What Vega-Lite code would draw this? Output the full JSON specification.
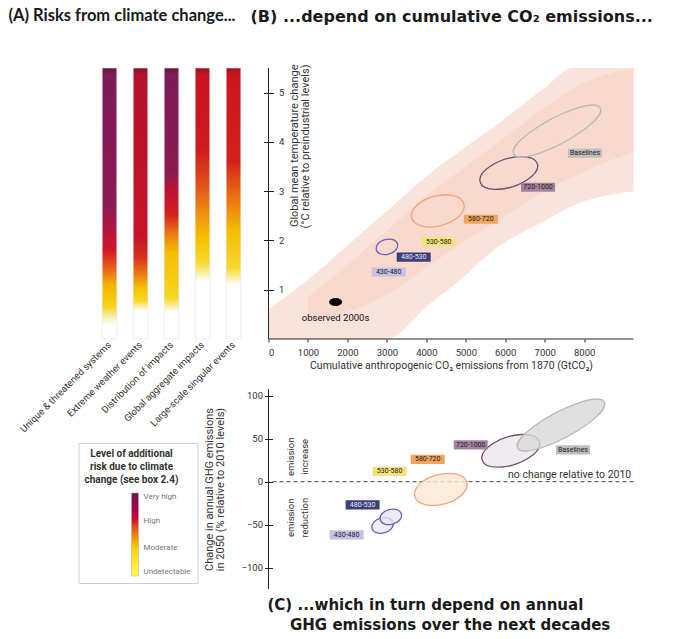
{
  "$schema": "https://vega.github.io/schema/vega-lite/v6.json",
  "background": "white",
  "padding": {"left": 8, "top": 8, "right": 4, "bottom": 4},
  "columns": 2,
  "align": "each",
  "bounds": "flush",
  "spacing": {"row": 50, "column": 19.5},
  "config": {
    "view": {"stroke": null},
    "font": "Roboto",
    "axis": {"labelFont": "Roboto", "titleFont": "Roboto", "labelFontSize": 9.5, "titleFontSize": 10.5, "titleFontWeight": "normal", "labelColor": "#333", "titleColor": "#333", "tickColor": "#222", "domainColor": "#222", "grid": false},
    "title": {"font": "Lato", "fontSize": 16, "fontWeight": "bold", "color": "#1a1a1a", "anchor": "start", "frame": "group", "baseline": "alphabetic"},
    "text": {"font": "Roboto"}
  },
  "concat": [
    {
      "width": 155,
      "height": 271,
      "title": {"text": "(A) Risks from climate change...", "fontSize": 16.5, "dx": -85.5, "offset": 43},
      "data": {"values": [
        {"system": "Unique & threatened systems", "low": 0, "high": 5.5},
        {"system": "Extreme weather events", "low": 0, "high": 5.5},
        {"system": "Distribution of impacts", "low": 0, "high": 5.5},
        {"system": "Global aggregate impacts", "low": 0, "high": 5.5},
        {"system": "Large-scale singular events", "low": 0, "high": 5.5}
      ]},
      "encoding": {
        "x": {"field": "system", "type": "nominal", "scale": {"domain": ["Unique & threatened systems", "Extreme weather events", "Distribution of impacts", "Global aggregate impacts", "Large-scale singular events"], "paddingInner": 0.53, "paddingOuter": 0.265}, "axis": {"title": null, "domain": false, "ticks": false, "labelAngle": -45, "labelAlign": "right", "labelBaseline": "middle", "labelPadding": 4, "labelLimit": 200}},
        "y": {"field": "high", "type": "quantitative", "scale": {"domain": [0, 5.5], "nice": false}, "axis": null},
        "y2": {"field": "low"}
      },
      "layer": [
        {"transform": [{"filter": "datum.system === 'Unique & threatened systems'"}], "mark": {"type": "bar", "stroke": "#e2e2e2", "strokeWidth": 0.6, "fill": {"gradient": "linear", "x1": 0, "y1": 0, "x2": 0, "y2": 1, "stops": [{"offset": 0, "color": "#5e1a3e"}, {"offset": 0.025, "color": "#7d1c57"}, {"offset": 0.5, "color": "#8a1b57"}, {"offset": 0.6, "color": "#b3163f"}, {"offset": 0.67, "color": "#cf1526"}, {"offset": 0.74, "color": "#e8601a"}, {"offset": 0.8, "color": "#f4b400"}, {"offset": 0.88, "color": "#f7d21a"}, {"offset": 0.925, "color": "#fcf1c8"}, {"offset": 0.95, "color": "#ffffff"}, {"offset": 1, "color": "#ffffff"}]}}},
        {"transform": [{"filter": "datum.system === 'Extreme weather events'"}], "mark": {"type": "bar", "stroke": "#e2e2e2", "strokeWidth": 0.6, "fill": {"gradient": "linear", "x1": 0, "y1": 0, "x2": 0, "y2": 1, "stops": [{"offset": 0, "color": "#7d1630"}, {"offset": 0.025, "color": "#b3122c"}, {"offset": 0.62, "color": "#c9122a"}, {"offset": 0.7, "color": "#d9301c"}, {"offset": 0.76, "color": "#ec7a12"}, {"offset": 0.81, "color": "#f4c000"}, {"offset": 0.86, "color": "#f7d828"}, {"offset": 0.895, "color": "#ffffff"}, {"offset": 1, "color": "#ffffff"}]}}},
        {"transform": [{"filter": "datum.system === 'Distribution of impacts'"}], "mark": {"type": "bar", "stroke": "#e2e2e2", "strokeWidth": 0.6, "fill": {"gradient": "linear", "x1": 0, "y1": 0, "x2": 0, "y2": 1, "stops": [{"offset": 0, "color": "#5e1a3e"}, {"offset": 0.025, "color": "#7d1c57"}, {"offset": 0.38, "color": "#8a1b52"}, {"offset": 0.46, "color": "#bf1430"}, {"offset": 0.54, "color": "#d41d1e"}, {"offset": 0.61, "color": "#ec7812"}, {"offset": 0.68, "color": "#f4bc00"}, {"offset": 0.85, "color": "#f7d820"}, {"offset": 0.9, "color": "#ffffff"}, {"offset": 1, "color": "#ffffff"}]}}},
        {"transform": [{"filter": "datum.system === 'Global aggregate impacts'"}], "mark": {"type": "bar", "stroke": "#e2e2e2", "strokeWidth": 0.6, "fill": {"gradient": "linear", "x1": 0, "y1": 0, "x2": 0, "y2": 1, "stops": [{"offset": 0, "color": "#951422"}, {"offset": 0.025, "color": "#c81420"}, {"offset": 0.3, "color": "#d01a1e"}, {"offset": 0.43, "color": "#e2501a"}, {"offset": 0.53, "color": "#ee8c10"}, {"offset": 0.63, "color": "#f4c200"}, {"offset": 0.72, "color": "#f7da34"}, {"offset": 0.785, "color": "#ffffff"}, {"offset": 1, "color": "#ffffff"}]}}},
        {"transform": [{"filter": "datum.system === 'Large-scale singular events'"}], "mark": {"type": "bar", "stroke": "#e2e2e2", "strokeWidth": 0.6, "fill": {"gradient": "linear", "x1": 0, "y1": 0, "x2": 0, "y2": 1, "stops": [{"offset": 0, "color": "#a01420"}, {"offset": 0.025, "color": "#cc1420"}, {"offset": 0.34, "color": "#d42018"}, {"offset": 0.49, "color": "#ec7812"}, {"offset": 0.6, "color": "#f4bc00"}, {"offset": 0.74, "color": "#f7d834"}, {"offset": 0.8, "color": "#ffffff"}, {"offset": 1, "color": "#ffffff"}]}}}
      ]
    },
    {
      "width": 365,
      "height": 271,
      "title": {"text": "(B) ...depend on cumulative CO₂ emissions...", "font": "DejaVu Sans", "fontSize": 16, "dx": -18, "offset": 39},
      "layer": [
        {
          "data": {"values": [
            {"cum": 0, "lo": 0, "hi": 0.6},
            {"cum": 1000, "lo": 0, "hi": 1.2},
            {"cum": 2000, "lo": 0, "hi": 1.9},
            {"cum": 3000, "lo": 0, "hi": 2.6},
            {"cum": 4000, "lo": 0.65, "hi": 3.3},
            {"cum": 5000, "lo": 1.3, "hi": 3.9},
            {"cum": 5700, "lo": 1.8, "hi": 4.3},
            {"cum": 7000, "lo": 2.4, "hi": 5.1},
            {"cum": 7700, "lo": 2.7, "hi": 5.5},
            {"cum": 9250, "lo": 3.0, "hi": 5.5}
          ]},
          "mark": {"type": "area", "fill": "#f3b9a6", "opacity": 0.4, "interpolate": "monotone"},
          "encoding": {
            "x": {"field": "cum", "type": "quantitative", "scale": {"domain": [0, 9250], "nice": false, "zero": false}, "axis": {"title": "Cumulative anthropogenic CO₂ emissions from 1870 (GtCO₂)", "values": [0, 1000, 2000, 3000, 4000, 5000, 6000, 7000, 8000], "format": "d", "domain": false, "tickSize": 3, "labelPadding": 5, "titlePadding": 4}},
            "y": {"field": "hi", "type": "quantitative", "scale": {"domain": [0, 5.5], "nice": false, "zero": false}, "axis": {"title": ["Global mean temperature change", "(°C relative to preindustrial levels)"], "values": [1, 2, 3, 4, 5], "labelOverlap": false, "domain": false, "offset": -5, "tickSize": 10, "labelPadding": -15, "labelAlign": "left", "labelBaseline": "middle", "titleX": 15, "titleY": -4, "titleAlign": "right", "titleBaseline": "top", "titleAngle": 270, "titleFontSize": 11, "titleLineHeight": 11, "zindex": 1}},
            "y2": {"field": "lo"}
          }
        },
        {
          "data": {"values": [
            {"cum": 1000, "lo": 0.35, "hi": 0.85},
            {"cum": 2000, "lo": 0.55, "hi": 1.5},
            {"cum": 3000, "lo": 0.9, "hi": 2.2},
            {"cum": 4000, "lo": 1.45, "hi": 2.9},
            {"cum": 5000, "lo": 2.0, "hi": 3.5},
            {"cum": 6000, "lo": 2.5, "hi": 4.1},
            {"cum": 7000, "lo": 3.0, "hi": 4.7},
            {"cum": 8000, "lo": 3.4, "hi": 5.2},
            {"cum": 9250, "lo": 3.8, "hi": 5.5}
          ]},
          "mark": {"type": "area", "fill": "#f2b49a", "opacity": 0.2, "interpolate": "monotone"},
          "encoding": {
            "x": {"field": "cum", "type": "quantitative"},
            "y": {"field": "hi", "type": "quantitative"},
            "y2": {"field": "lo"}
          }
        },
        {"data": {"values": [{}]}, "mark": {"type": "rule", "color": "#222", "strokeWidth": 1}, "encoding": {"x": {"datum": 0}}},
        {"data": {"values": [{}]}, "mark": {"type": "rule", "color": "#222", "strokeWidth": 1}, "encoding": {"y": {"datum": 0}}},
        {
          "data": {"values": [
            {"scenario": "480-530", "cum": 3000, "temp": 1.87},
            {"scenario": "580-720", "cum": 4290, "temp": 2.6},
            {"scenario": "720-1000", "cum": 6090, "temp": 3.37},
            {"scenario": "Baselines", "cum": 7310, "temp": 4.22}
          ]},
          "mark": {"type": "point", "size": 10000, "filled": false, "strokeWidth": 1.3, "opacity": 1},
          "encoding": {
            "x": {"field": "cum", "type": "quantitative"},
            "y": {"field": "temp", "type": "quantitative"},
            "shape": {"field": "scenario", "type": "nominal", "legend": null, "scale": {"domain": ["480-530", "580-720", "720-1000", "Baselines"], "range": ["M-0.2125,0.057A0.22,0.15,-15,1,0,0.2125,-0.057A0.22,0.15,-15,1,0,-0.2125,0.057Z", "M-0.5216,0.1398A0.54,0.3,-15,1,0,0.5216,-0.1398A0.54,0.3,-15,1,0,-0.5216,0.1398Z", "M-0.5706,0.1854A0.6,0.28,-18,1,0,0.5706,-0.1854A0.6,0.28,-18,1,0,-0.5706,0.1854Z", "M-0.8652,0.46A0.98,0.26,-28,1,0,0.8652,-0.46A0.98,0.26,-28,1,0,-0.8652,0.46Z"]}},
            "stroke": {"field": "scenario", "type": "nominal", "legend": null, "scale": {"domain": ["480-530", "580-720", "720-1000", "Baselines"], "range": ["#6a5fb8", "#f4a37a", "#6e4e6a", "#b8b8b8"]}}
          }
        },
        {
          "data": {"values": [{"cum": 1700, "temp": 0.75, "label": "observed 2000s"}]},
          "encoding": {"x": {"field": "cum", "type": "quantitative"}, "y": {"field": "temp", "type": "quantitative"}},
          "layer": [
            {"mark": {"type": "point", "shape": "M-1,0A1,0.62,0,1,0,1,0A1,0.62,0,1,0,-1,0Z", "size": 169, "filled": true, "color": "#000", "opacity": 1}},
            {"mark": {"type": "text", "dy": 16, "fontSize": 9.5, "color": "#111"}, "encoding": {"text": {"field": "label"}}}
          ]
        },
        {
          "data": {"values": [
            {"scenario": "430-480", "cum": 3045, "temp": 1.36},
            {"scenario": "480-530", "cum": 3680, "temp": 1.66},
            {"scenario": "530-580", "cum": 4315, "temp": 1.97},
            {"scenario": "580-720", "cum": 5380, "temp": 2.43},
            {"scenario": "720-1000", "cum": 6830, "temp": 3.08},
            {"scenario": "Baselines", "cum": 8020, "temp": 3.77}
          ]},
          "encoding": {"x": {"field": "cum", "type": "quantitative"}, "y": {"field": "temp", "type": "quantitative"}},
          "layer": [
            {"mark": {"type": "point", "shape": "M-1,-0.27H1V0.27H-1Z", "size": 1156, "filled": true, "opacity": 1}, "encoding": {"color": {"field": "scenario", "type": "nominal", "legend": null, "scale": {"domain": ["430-480", "480-530", "530-580", "580-720", "720-1000", "Baselines"], "range": ["#c4c0e4", "#3d3f78", "#f3e47a", "#f0a45c", "#a3839f", "#bdbdbd"]}}}},
            {"transform": [{"filter": "datum.scenario !== '480-530'"}], "mark": {"type": "text", "fontSize": 7, "color": "#222"}, "encoding": {"text": {"field": "scenario"}}},
            {"transform": [{"filter": "datum.scenario === '480-530'"}], "mark": {"type": "text", "fontSize": 7, "color": "#e8e8f4"}, "encoding": {"text": {"field": "scenario"}}}
          ]
        }
      ]
    },
    {
      "width": 155,
      "height": 200,
      "data": {"values": [{"level": 0}, {"level": 1}, {"level": 2}, {"level": 3}]},
      "mark": {"type": "point", "filled": true, "size": 0, "opacity": 1},
      "encoding": {
        "color": {"field": "level", "type": "quantitative", "scale": {"domain": [0, 1, 2, 3], "range": ["#ffffff", "#f6d000", "#d2142a", "#6a1b4d"]}, "legend": {
          "orient": "none", "legendX": -15.5, "legendY": 54, "direction": "vertical",
          "title": ["Level of additional", "risk due to climate", "change (see box 2.4)"],
          "titleFont": "Roboto", "titleFontSize": 10, "titleFontWeight": "bold", "titleColor": "#333", "titleAnchor": "start", "titleAlign": "center", "titleLineHeight": 13, "titlePadding": 8,
          "gradientLength": 83, "gradientThickness": 7, "gradientStrokeColor": "#aaa", "gradientStrokeWidth": 0.5,
          "values": [0, 1, 2, 3], "labelExpr": "['Undetectable','Moderate','High','Very high'][datum.value]", "labelFont": "Roboto", "labelFontSize": 8, "labelColor": "#777", "labelOffset": 5,
          "strokeColor": "#d0d0d0", "fillColor": "#ffffff", "padding": 6, "cornerRadius": 0
        }}
      }
    },
    {
      "width": 365,
      "height": 200,
      "title": {"text": ["(C) ...which in turn depend on annual", "\u200b\u2002\u2002\u2002GHG emissions over the next decades"], "font": "DejaVu Sans", "fontSize": 15, "orient": "bottom", "dx": -1, "offset": 8, "lineHeight": 20, "baseline": "top"},
      "layer": [
        {"data": {"values": [{}]}, "mark": {"type": "rule", "color": "#222", "strokeWidth": 1}, "encoding": {"x": {"datum": 0, "scale": {"domain": [0, 9250], "nice": false, "zero": false}, "axis": null}}},
        {"data": {"values": [{}]}, "mark": {"type": "rule", "color": "#444", "strokeWidth": 1, "strokeDash": [4, 3]}, "encoding": {"y": {"datum": 0, "scale": {"domain": [-125, 108], "nice": false, "zero": false}}}},
        {
          "data": {"values": [
            {"scenario": "430-480", "cum": 2890, "chg": -51},
            {"scenario": "480-530", "cum": 3100, "chg": -41},
            {"scenario": "580-720", "cum": 4365, "chg": -9},
            {"scenario": "720-1000", "cum": 6140, "chg": 36},
            {"scenario": "Baselines", "cum": 7410, "chg": 66}
          ]},
          "mark": {"type": "point", "size": 10000, "filled": true, "strokeWidth": 1.3, "opacity": 1, "fillOpacity": 0.8},
          "encoding": {
            "x": {"field": "cum", "type": "quantitative", "scale": {"domain": [0, 9250], "nice": false, "zero": false}, "axis": null},
            "y": {"field": "chg", "type": "quantitative", "scale": {"domain": [-125, 108], "nice": false, "zero": false}, "axis": {"title": ["Change in annual GHG emissions", "in 2050 (% relative to 2010 levels)"], "values": [-100, -50, 0, 50, 100], "domain": false, "offset": -4, "tickSize": 8, "labelPadding": 2, "titlePadding": 16, "titleFontSize": 11, "titleLineHeight": 11}},
            "shape": {"field": "scenario", "type": "nominal", "legend": null, "scale": {"domain": ["430-480", "480-530", "580-720", "720-1000", "Baselines"], "range": ["M-0.3677,0.3677A0.52,0.14,-45,1,0,0.3677,-0.3677A0.52,0.14,-45,1,0,-0.3677,0.3677Z", "M-0.15,0.2598A0.3,0.24,-60,1,0,0.15,-0.2598A0.3,0.24,-60,1,0,-0.15,0.2598Z", "M-0.5374,0.5374A0.76,0.4,-45,1,0,0.5374,-0.5374A0.76,0.4,-45,1,0,-0.5374,0.5374Z", "M-0.545,0.1984A0.58,0.24,-20,1,0,0.545,-0.1984A0.58,0.24,-20,1,0,-0.545,0.1984Z", "M-0.8046,0.446A0.92,0.24,-29,1,0,0.8046,-0.446A0.92,0.24,-29,1,0,-0.8046,0.446Z"]}},
            "fill": {"field": "scenario", "type": "nominal", "legend": null, "scale": {"domain": ["430-480", "480-530", "580-720", "720-1000", "Baselines"], "range": ["#e8ecf8", "#e6e6ee", "#fde6d2", "#ebe6ee", "#d8d8d8"]}},
            "stroke": {"field": "scenario", "type": "nominal", "legend": null, "scale": {"domain": ["430-480", "480-530", "580-720", "720-1000", "Baselines"], "range": ["#a9b6e0", "#6d6d80", "#f0b07c", "#58566e", "#b0b0b0"]}}
          }
        },
        {
          "data": {"values": [
            {"scenario": "430-480", "cum": 1980, "chg": -62},
            {"scenario": "480-530", "cum": 2385, "chg": -27},
            {"scenario": "530-580", "cum": 3070, "chg": 12},
            {"scenario": "580-720", "cum": 4035, "chg": 26},
            {"scenario": "720-1000", "cum": 5125, "chg": 43},
            {"scenario": "Baselines", "cum": 7715, "chg": 37}
          ]},
          "encoding": {"x": {"field": "cum", "type": "quantitative", "axis": null}, "y": {"field": "chg", "type": "quantitative"}},
          "layer": [
            {"mark": {"type": "point", "shape": "M-1,-0.27H1V0.27H-1Z", "size": 1156, "filled": true, "opacity": 1}, "encoding": {"color": {"field": "scenario", "type": "nominal", "legend": null, "scale": {"domain": ["430-480", "480-530", "530-580", "580-720", "720-1000", "Baselines"], "range": ["#c4c0e4", "#3d3f78", "#f3e47a", "#f0a45c", "#a3839f", "#bdbdbd"]}}}},
            {"transform": [{"filter": "datum.scenario !== '480-530'"}], "mark": {"type": "text", "fontSize": 7, "color": "#222"}, "encoding": {"text": {"field": "scenario"}}},
            {"transform": [{"filter": "datum.scenario === '480-530'"}], "mark": {"type": "text", "fontSize": 7, "color": "#e8e8f4"}, "encoding": {"text": {"field": "scenario"}}}
          ]
        },
        {
          "data": {"values": [
            {"cum": 560, "chg": 29, "txt": "emission\nincrease"},
            {"cum": 560, "chg": -42, "txt": "emission\nreduction"}
          ]},
          "mark": {"type": "text", "angle": 270, "lineBreak": "\n", "fontSize": 9.5, "lineHeight": 14, "color": "#333", "align": "center", "baseline": "middle"},
          "encoding": {"x": {"field": "cum", "type": "quantitative", "axis": null}, "y": {"field": "chg", "type": "quantitative"}, "text": {"field": "txt"}}
        },
        {
          "data": {"values": [{"cum": 6070, "chg": 4, "txt": "no change relative to 2010"}]},
          "mark": {"type": "text", "fontSize": 10.5, "color": "#333", "align": "left", "baseline": "alphabetic"},
          "encoding": {"x": {"field": "cum", "type": "quantitative", "axis": null}, "y": {"field": "chg", "type": "quantitative"}, "text": {"field": "txt"}}
        }
      ]
    }
  ]
}
